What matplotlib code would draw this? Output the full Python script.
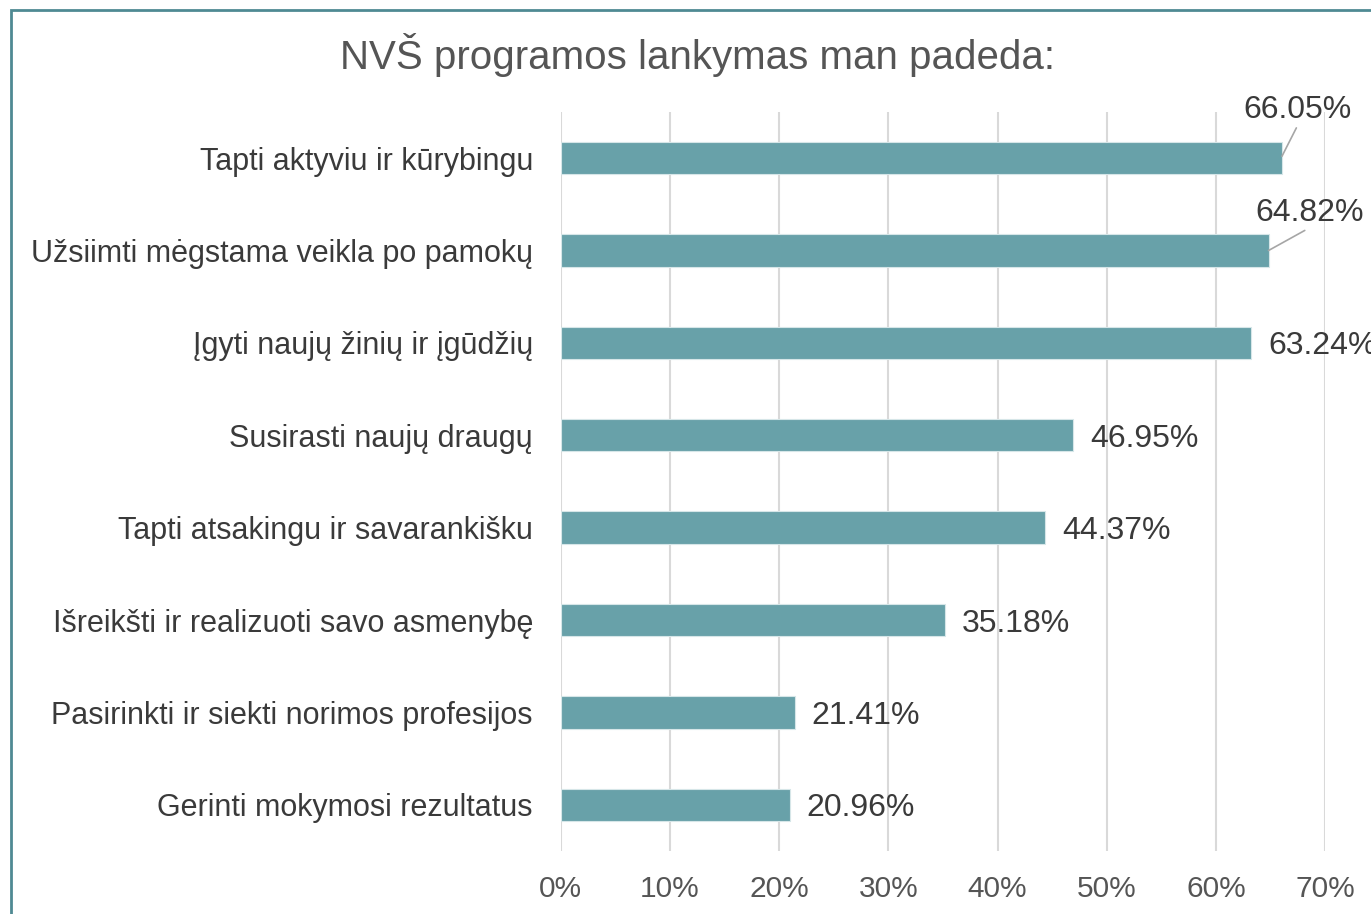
import matplotlib
matplotlib.use('Agg')
import matplotlib.pyplot as plt
from matplotlib.patches import Rectangle
from matplotlib.ticker import FuncFormatter

categories = [
    'Tapti aktyviu ir kūrybingu',
    'Užsiimti mėgstama veikla po pamokų',
    'Įgyti naujų žinių ir įgūdžių',
    'Susirasti naujų draugų',
    'Tapti atsakingu ir savarankišku',
    'Išreikšti ir realizuoti savo asmenybę',
    'Pasirinkti ir siekti norimos profesijos',
    'Gerinti mokymosi rezultatus',
]
values = [66.05, 64.82, 63.24, 46.95, 44.37, 35.18, 21.41, 20.96]
x_ticks = [0, 10, 20, 30, 40, 50, 60, 70]

plt.rcParams['font.family'] = ['Liberation Sans Narrow', 'Liberation Sans', 'DejaVu Sans']

bar_color = '#68A1A9'
text_dark = '#3A3A3A'
text_grey = '#555555'

fig = plt.figure(figsize=(13.71, 9.14), dpi=100)
ax = fig.add_axes([0.409, 0.069, 0.5575, 0.8085])

y = list(range(len(categories)))
ax.barh(y, values, height=0.35, color=bar_color, edgecolor='#D6E6E8', linewidth=0.8, zorder=3)
ax.set_ylim(len(categories) - 0.5, -0.5)
ax.set_xlim(0, 70)

ax.set_yticks(y)
ax.set_yticklabels(categories, fontsize=22, color=text_dark)
ax.set_xticks(x_ticks)
ax.xaxis.set_major_formatter(FuncFormatter(lambda v, _: f'{v:.0f}%'))
ax.tick_params(axis='x', labelsize=21.5, labelcolor=text_grey, length=0, pad=17)
ax.tick_params(axis='y', length=0, pad=20)
ax.grid(axis='x', color='#D9D9D9', linewidth=1.5, zorder=0)
for s in ax.spines.values():
    s.set_visible(False)

# data labels, the first two with leader lines
leader = dict(arrowstyle='-', color='#A6A6A6', lw=1.2, shrinkA=0, shrinkB=0, relpos=(0.5, 0))
for i, v in enumerate(values):
    lab = f'{v:.2f}%'
    if i == 0:
        ax.annotate(lab, xy=(v, i - 0.02), xytext=(67.5, i - 0.52), ha='center', va='center',
                    fontsize=23, color=text_dark, annotation_clip=False, arrowprops=leader)
    elif i == 1:
        ax.annotate(lab, xy=(v, i), xytext=(68.6, i - 0.41), ha='center', va='center',
                    fontsize=23, color=text_dark, annotation_clip=False, arrowprops=leader)
    else:
        ax.annotate(lab, xy=(v, i), xytext=(12, 0), textcoords='offset points',
                    ha='left', va='center_baseline', fontsize=23, color=text_dark,
                    annotation_clip=False)

fig.text(0.509, 0.94, 'NVŠ programos lankymas man padeda:', ha='center', va='center',
         fontsize=29, color=text_grey)

# outer chart border (cut off on the right and bottom)
fig.patches.append(Rectangle((11 / 1371, -0.1), 1.2, 1 - 10 / 914 + 0.1, transform=fig.transFigure,
                             fill=False, edgecolor='#4F8A93', linewidth=2))

fig.savefig('out.png', dpi=100)
